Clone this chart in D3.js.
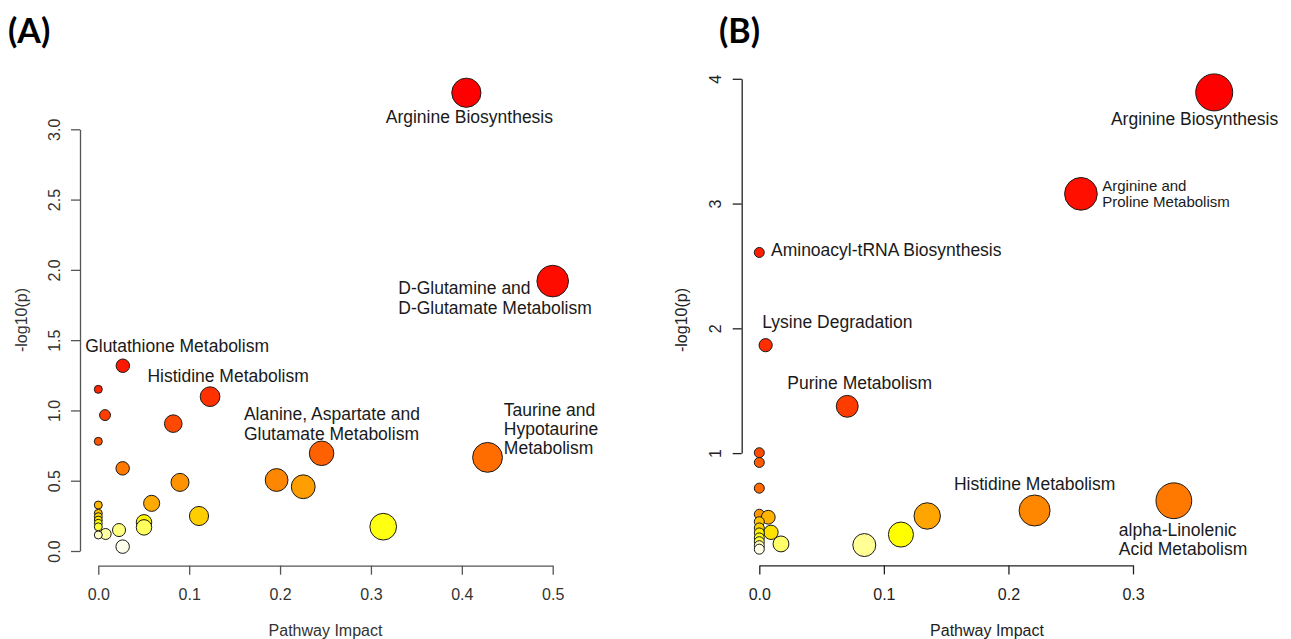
<!DOCTYPE html>
<html>
<head>
<meta charset="utf-8">
<script src="https://cdn.jsdelivr.net/npm/d3@7"></script>
<style>
body { margin: 0; background: #fff; }
svg { display: block; font-family: "Liberation Sans", Arial, sans-serif; }
</style>
</head>
<body>
<div id="chart"></div>
<script>
// Panel A: pathway impact vs -log10(p), listed by decreasing -log10(p)
const impactA = [0.405, 0.500, 0.027, 0.000, 0.123, 0.0074, 0.0825, 0.000, 0.2457, 0.4283,
                 0.0268, 0.1962, 0.0899, 0.2255, 0.0587, 0.000, 0.000, 0.1108, 0.000, 0.000,
                 0.0503, 0.000, 0.3135, 0.000, 0.0503, 0.0228, 0.0081, 0.000, 0.0268];
const logpA   = [3.26, 1.92, 1.318, 1.150, 1.098, 0.967, 0.906, 0.780, 0.695, 0.666,
                 0.588, 0.505, 0.488, 0.457, 0.339, 0.327, 0.268, 0.249, 0.244, 0.220,
                 0.204, 0.197, 0.173, 0.172, 0.168, 0.149, 0.121, 0.114, 0.031];
const xTicksA = [0, 0.1, 0.2, 0.3, 0.4, 0.5];
const yTicksA = [0, 0.5, 1, 1.5, 2, 2.5, 3];

// Panel B
const impactB = [0.3652, 0.2582, 0.000, 0.0051, 0.0706, 0.000, 0.000, 0.000, 0.3328, 0.221,
                 0.000, 0.1348, 0.0072, 0.000, 0.000, 0.0094, 0.000, 0.1137, 0.000, 0.000,
                 0.0174, 0.0843, 0.000, 0.000];
const logpB   = [3.891, 3.078, 2.608, 1.865, 1.375, 1.003, 0.925, 0.719, 0.618, 0.540,
                 0.510, 0.496, 0.486, 0.450, 0.400, 0.365, 0.360, 0.347, 0.320, 0.290,
                 0.272, 0.263, 0.258, 0.230];
const xTicksB = [0, 0.1, 0.2, 0.3];
const yTicksB = [1, 2, 3, 4];

// labelled pathways: index into the arrays above + text lines
const labelsA = [
    {i: 0, lines: ["Arginine Biosynthesis"], dx: 3, dy: 30, anchor: "middle"},
    {i: 1, lines: ["D-Glutamine and", "D-Glutamate Metabolism"], dx: -154.4, dy: 13.3},
    {i: 2, lines: ["Glutathione Metabolism"], dx: -37.7, dy: -13.7},
    {i: 4, lines: ["Histidine Metabolism"], dx: -62.7, dy: -15},
    {i: 8, lines: ["Alanine, Aspartate and", "Glutamate Metabolism"], dx: -77.7, dy: -33},
    {i: 9, lines: ["Taurine and", "Hypotaurine", "Metabolism"], dx: 16.3, dy: -41.8}
];
const labelsB = [
    {i: 0, lines: ["Arginine Biosynthesis"], dx: -103.3, dy: 33.1},
    {i: 1, lines: ["Arginine and", "Proline Metabolism"], dx: 21.3, dy: -3.3, size: 15},
    {i: 2, lines: ["Aminoacyl-tRNA Biosynthesis"], dx: 11.7, dy: 3.3},
    {i: 3, lines: ["Lysine Degradation"], dx: -3.4, dy: -17.4},
    {i: 4, lines: ["Purine Metabolism"], dx: -60, dy: -17.3},
    {i: 9, lines: ["Histidine Metabolism"], dx: -80.7, dy: -20.4},
    {i: 8, lines: ["alpha-Linolenic", "Acid Metabolism"], dx: -55, dy: 35.2}
];

const w = 1291;
const h = 639;

let svg = d3.select("#chart").append("svg")
    .attr("width", w)
    .attr("height", h);

// R's heat.colors(n)
function heatColors(n) {
    let j = Math.floor(n / 4);
    let i = n - j;
    let cols = [];
    for (let k = 0; k < i; k++) {
        let hue = i > 1 ? (k / (i - 1)) / 6 : 0;
        cols.push(d3.rgb(255, Math.round(255 * hue * 6), 0).formatHex());
    }
    for (let k = 0; k < j; k++) {
        let from = 1 - 1 / (2 * j), to = 1 / (2 * j);
        let s = j > 1 ? from + (to - from) * k / (j - 1) : from;
        cols.push(d3.rgb(255, 255, Math.round(255 * (1 - s))).formatHex());
    }
    return cols;
}

function drawPanel(p) {
    let xScale = d3.scaleLinear().domain(p.xDomain).range(p.xRange);
    let yScale = d3.scaleLinear().domain(p.yDomain).range(p.yRange);
    let rScale = d3.scaleSqrt().domain([0, d3.max(p.impact)]).range(p.rRange);

    let order = d3.range(p.logp.length).sort((a, b) => p.logp[b] - p.logp[a]);
    let cols = heatColors(order.length);
    let colorOf = [];
    order.forEach((idx, rank) => colorOf[idx] = cols[rank]);

    let g = svg.append("g");

    let xAxis = g.append("g")
        .attr("transform", "translate(0," + p.xAxisY + ")")
        .call(d3.axisBottom(xScale).tickValues(p.xTicks).tickFormat(d3.format(".1f"))
              .tickSize(9).tickSizeOuter(0).tickPadding(14));
    let yAxis = g.append("g")
        .attr("transform", "translate(" + p.yAxisX + ",0)")
        .call(d3.axisLeft(yScale).tickValues(p.yTicks).tickFormat(d3.format(p.yFormat))
              .tickSize(9).tickSizeOuter(0));

    [xAxis, yAxis].forEach(a => {
        a.attr("font-family", null).attr("font-size", 16);
        a.select(".domain").attr("stroke", p.axisColor).attr("stroke-width", 1.3);
        a.selectAll(".tick line").attr("stroke", p.axisColor).attr("stroke-width", 1.3);
        a.selectAll(".tick text").attr("fill", p.textColor);
    });
    yAxis.selectAll(".tick text")
        .attr("x", null).attr("dy", "0.35em")
        .attr("text-anchor", "middle")
        .attr("transform", "translate(-26,0) rotate(-90)");

    g.append("text")
        .attr("x", p.xTitle[0]).attr("y", p.xTitle[1])
        .attr("text-anchor", "middle")
        .attr("font-size", 16)
        .attr("fill", p.textColor)
        .text("Pathway Impact");

    g.append("text")
        .attr("transform", "translate(" + p.yTitle[0] + "," + p.yTitle[1] + ") rotate(-90)")
        .attr("dy", "0.35em")
        .attr("text-anchor", "middle")
        .attr("font-size", 16)
        .attr("fill", p.textColor)
        .text("-log10(p)");

    g.append("g")
        .selectAll("circle")
        .data(order)
        .join("circle")
        .attr("cx", d => xScale(p.impact[d]))
        .attr("cy", d => yScale(p.logp[d]))
        .attr("r", d => rScale(p.impact[d]))
        .attr("fill", d => colorOf[d])
        .attr("stroke", "#1a1a1a")
        .attr("stroke-width", 1);

    p.labels.forEach(lab => {
        let size = lab.size || 17.5;
        let px = xScale(p.impact[lab.i]) + lab.dx;
        let py = yScale(p.logp[lab.i]) + lab.dy;
        lab.lines.forEach((line, k) => {
            g.append("text")
                .attr("x", px)
                .attr("y", py + k * size * 1.1)
                .attr("text-anchor", lab.anchor || "start")
                .attr("font-size", size)
                .attr("fill", "#1a1a1a")
                .text(line);
        });
    });

    svg.append("text")
        .attr("x", p.tag[0]).attr("y", p.tag[1])
        .attr("font-family", "Lato, 'Open Sans', sans-serif")
        .attr("font-weight", 700)
        .attr("font-size", 34)
        .attr("fill", "#000")
        .text(p.tagText);
}

drawPanel({
    impact: impactA, logp: logpA, xTicks: xTicksA, yTicks: yTicksA, labels: labelsA,
    xDomain: [0, 0.5], xRange: [98.3, 552.7],
    yDomain: [0, 3], yRange: [551, 129.3],
    rRange: [4, 15.8],
    xAxisY: 565.7, yAxisX: 80,
    yFormat: ".1f",
    axisColor: "#555", textColor: "#333",
    xTitle: [325.5, 636], yTitle: [21, 320],
    tag: [8, 42.5], tagText: "(A)"
});

drawPanel({
    impact: impactB, logp: logpB, xTicks: xTicksB, yTicks: yTicksB, labels: labelsB,
    xDomain: [0, 0.3], xRange: [759.3, 1133],
    yDomain: [1, 4], yRange: [453.1, 78.8],
    rRange: [5, 18.5],
    xAxisY: 565.4, yAxisX: 741.7,
    yFormat: "d",
    axisColor: "#222", textColor: "#222",
    xTitle: [987, 636], yTitle: [681.7, 320],
    tag: [719, 42.5], tagText: "(B)"
});
</script>
</body>
</html>
